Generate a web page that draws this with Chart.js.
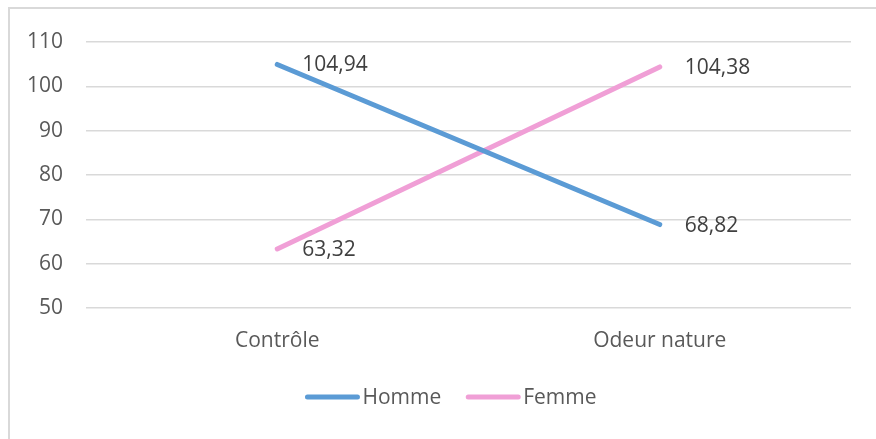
<!DOCTYPE html>
<html>
<head>
<meta charset="utf-8">
<script src="https://cdn.jsdelivr.net/npm/chart.js@4/dist/chart.umd.min.js"></script>
<style>
  html, body { margin: 0; padding: 0; background: #fff; overflow: hidden; }
  #wrap { position: relative; width: 876px; height: 439px; }
  #frame {
    position: absolute; left: 8px; top: 7px; width: 900px; height: 500px;
    border: 2px solid #d9d9d9; box-sizing: border-box; pointer-events: none;
  }
  canvas { position: absolute; left: 0; top: 0; }
</style>
</head>
<body>
<div id="wrap">
  <div id="frame"></div>
  <canvas id="chart" width="876" height="439"></canvas>
</div>
<script>
const categories = ["Contrôle", "Odeur nature"];
const homme = [104.94, 68.82];
const femme = [63.32, 104.38];
const yTicks = [50, 60, 70, 80, 90, 100, 110];

const FONT = "'Open Sans', 'DejaVu Sans', sans-serif";
const TEXT = "#595959";

// value labels to the right of each point, like the Excel data labels
const valueLabels = {
  id: "valueLabels",
  afterDatasetsDraw(chart) {
    const ctx = chart.ctx;
    ctx.save();
    ctx.font = "21px " + FONT;
    ctx.fillStyle = "#404040";
    ctx.textBaseline = "middle";
    ctx.textAlign = "left";
    chart.data.datasets.forEach((ds, i) => {
      chart.getDatasetMeta(i).data.forEach((pt, j) => {
        const txt = ds.data[j].toFixed(2).replace(".", ",");
        ctx.fillText(txt, pt.x + 25, pt.y + 1);
      });
    });
    ctx.restore();
  },
};

// excel style legend: short thick line, text right after it
const bottomLegend = {
  id: "bottomLegend",
  afterDraw(chart) {
    const ctx = chart.ctx;
    const sample = 54, gap = 3, between = 25;
    ctx.save();
    ctx.font = "21px " + FONT;
    const items = chart.data.datasets.map((ds) => ({
      label: ds.label,
      color: ds.borderColor,
      w: ctx.measureText(ds.label).width,
    }));
    const total = items.reduce((a, it) => a + sample + gap + it.w, 0) + between * (items.length - 1);
    let x = 451 - total / 2;
    const y = 397;
    items.forEach((it) => {
      ctx.strokeStyle = it.color;
      ctx.lineWidth = 5;
      ctx.lineCap = "round";
      ctx.beginPath();
      ctx.moveTo(x + 2, y);
      ctx.lineTo(x + sample - 2, y);
      ctx.stroke();
      ctx.fillStyle = TEXT;
      ctx.textBaseline = "middle";
      ctx.fillText(it.label, x + sample + gap, y + 1);
      x += sample + gap + it.w + between;
    });
    ctx.restore();
  },
};

function initChart() {
  const ctx = document.getElementById("chart").getContext("2d");
  new Chart(ctx, {
    type: "line",
    data: {
      labels: categories,
      datasets: [
        {
          label: "Homme",
          data: homme,
          borderColor: "#5b9bd5",
          backgroundColor: "#5b9bd5",
          borderWidth: 5,
          borderCapStyle: "round",
          pointRadius: 0,
          tension: 0,
        },
        {
          label: "Femme",
          data: femme,
          borderColor: "#f09fd6",
          backgroundColor: "#f09fd6",
          borderWidth: 5,
          borderCapStyle: "round",
          pointRadius: 0,
          tension: 0,
        },
      ],
    },
    options: {
      responsive: false,
      animation: false,
      events: [],
      layout: { padding: { top: 42, right: 25, bottom: 69, left: 0 } },
      scales: {
        x: {
          offset: true,
          grid: { display: false, drawTicks: false },
          border: { display: false },
          ticks: { color: TEXT, font: { family: FONT, size: 21 }, padding: 20 },
          afterFit: (s) => { s.height = 62; },
        },
        y: {
          min: 50,
          max: 110,
          afterBuildTicks: (s) => { s.ticks = yTicks.map((v) => ({ value: v })); },
          grid: { color: "#d9d9d9", lineWidth: 1.5, drawTicks: false },
          border: { display: false },
          ticks: { color: TEXT, font: { family: FONT, size: 21 }, padding: 23 },
          afterFit: (s) => { s.width = 86; },
        },
      },
      plugins: {
        legend: { display: false },
        tooltip: { enabled: false },
      },
    },
    plugins: [valueLabels, bottomLegend],
  });
}

window.onload = () => {
  initChart();
};
</script>
</body>
</html>
